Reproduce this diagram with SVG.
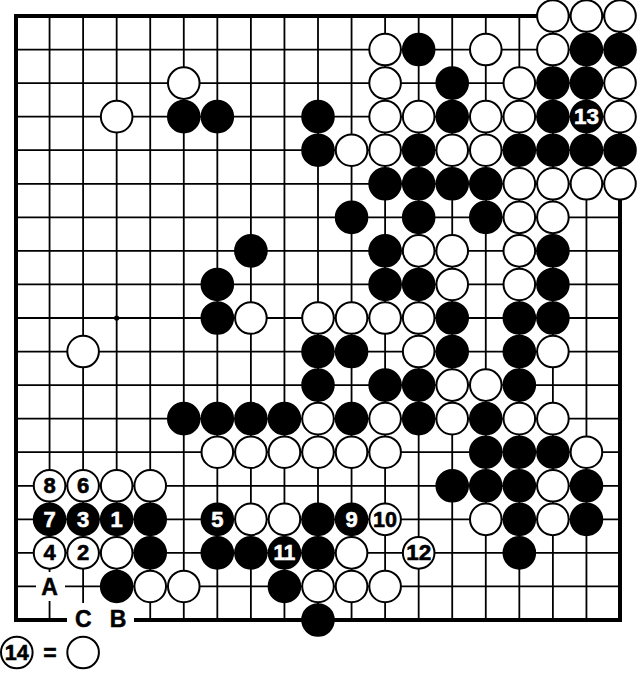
<svg xmlns="http://www.w3.org/2000/svg" width="640" height="674" viewBox="0 0 640 674">
<style>
.g{stroke:#000;stroke-width:1.8;fill:none}
.bd{stroke:#000;stroke-width:4;fill:none;stroke-linecap:square}
.b{fill:#000;stroke:#000;stroke-width:2}
.w{fill:#fff;stroke:#000;stroke-width:2}
.n{font-family:"Liberation Sans",Arial,sans-serif;font-weight:bold;font-size:22px;text-anchor:middle;stroke-width:0.6}
.nw{fill:#fff;stroke:#fff}
.nb{fill:#000;stroke:#000}
.lb{font-family:"Liberation Sans",Arial,sans-serif;font-weight:bold;font-size:23px;text-anchor:middle;fill:#000;stroke:#000;stroke-width:0.5}
</style>
<rect width="640" height="674" fill="#fff"/>
<g id="grid" class="g">
<path d="M16 49.56H620M16 83.11H620M16 116.67H620M16 150.22H620M16 183.78H620M16 217.33H620M16 250.89H620M16 284.44H620M16 318H620M16 351.56H620M16 385.11H620M16 418.67H620M16 452.22H620M16 485.78H620M16 519.33H620M16 552.89H620M16 586.44H620"/>
<path d="M49.56 16V620M83.11 16V620M116.67 16V620M150.22 16V620M183.78 16V620M217.33 16V620M250.89 16V620M284.44 16V620M318 16V620M351.56 16V620M385.11 16V620M418.67 16V620M452.22 16V620M485.78 16V620M519.33 16V620M552.89 16V620M586.44 16V620"/>
</g>
<g id="border" class="bd">
<path d="M16 620V16H620V620H16"/>
</g>
<circle id="hoshi" cx="116.67" cy="318" r="2.6" fill="#000"/>
<g id="labels">
<rect x="36" y="572" width="29" height="29" fill="#fff"/>
<text class="lb" x="49.56" y="595">A</text>
<rect x="67" y="603" width="67" height="34" fill="#fff"/>
<text class="lb" x="83.3" y="626.5">C</text>
<text class="lb" x="118" y="626.5">B</text>
</g>
<g id="stones">
<!-- row 0 -->
<circle class="w" cx="552.89" cy="16" r="15.8"/><circle class="w" cx="586.44" cy="16" r="15.8"/><circle class="w" cx="620" cy="16" r="15.8"/>
<!-- row 1 -->
<circle class="w" cx="385.11" cy="49.56" r="15.8"/><circle class="b" cx="418.67" cy="49.56" r="15.8"/><circle class="w" cx="485.78" cy="49.56" r="15.8"/><circle class="w" cx="552.89" cy="49.56" r="15.8"/><circle class="b" cx="586.44" cy="49.56" r="15.8"/><circle class="b" cx="620" cy="49.56" r="15.8"/>
<!-- row 2 -->
<circle class="w" cx="183.78" cy="83.11" r="15.8"/><circle class="w" cx="385.11" cy="83.11" r="15.8"/><circle class="b" cx="452.22" cy="83.11" r="15.8"/><circle class="w" cx="519.33" cy="83.11" r="15.8"/><circle class="b" cx="552.89" cy="83.11" r="15.8"/><circle class="b" cx="586.44" cy="83.11" r="15.8"/><circle class="w" cx="620" cy="83.11" r="15.8"/>
<!-- row 3 -->
<circle class="w" cx="116.67" cy="116.67" r="15.8"/><circle class="b" cx="183.78" cy="116.67" r="15.8"/><circle class="b" cx="217.33" cy="116.67" r="15.8"/><circle class="b" cx="318" cy="116.67" r="15.8"/><circle class="w" cx="385.11" cy="116.67" r="15.8"/><circle class="w" cx="418.67" cy="116.67" r="15.8"/><circle class="b" cx="452.22" cy="116.67" r="15.8"/><circle class="w" cx="485.78" cy="116.67" r="15.8"/><circle class="w" cx="519.33" cy="116.67" r="15.8"/><circle class="b" cx="552.89" cy="116.67" r="15.8"/>
<g id="m13"><circle class="b" cx="586.44" cy="116.67" r="15.8"/><text class="n nw" x="586.44" y="124.2" textLength="25" lengthAdjust="spacingAndGlyphs">13</text></g>
<circle class="w" cx="620" cy="116.67" r="15.8"/>
<!-- row 4 -->
<circle class="b" cx="318" cy="150.22" r="15.8"/><circle class="w" cx="351.56" cy="150.22" r="15.8"/><circle class="w" cx="385.11" cy="150.22" r="15.8"/><circle class="b" cx="418.67" cy="150.22" r="15.8"/><circle class="w" cx="452.22" cy="150.22" r="15.8"/><circle class="w" cx="485.78" cy="150.22" r="15.8"/><circle class="b" cx="519.33" cy="150.22" r="15.8"/><circle class="b" cx="552.89" cy="150.22" r="15.8"/><circle class="b" cx="586.44" cy="150.22" r="15.8"/><circle class="b" cx="620" cy="150.22" r="15.8"/>
<!-- row 5 -->
<circle class="b" cx="385.11" cy="183.78" r="15.8"/><circle class="b" cx="418.67" cy="183.78" r="15.8"/><circle class="b" cx="452.22" cy="183.78" r="15.8"/><circle class="b" cx="485.78" cy="183.78" r="15.8"/><circle class="w" cx="519.33" cy="183.78" r="15.8"/><circle class="w" cx="552.89" cy="183.78" r="15.8"/><circle class="w" cx="586.44" cy="183.78" r="15.8"/><circle class="w" cx="620" cy="183.78" r="15.8"/>
<!-- row 6 -->
<circle class="b" cx="351.56" cy="217.33" r="15.8"/><circle class="b" cx="418.67" cy="217.33" r="15.8"/><circle class="b" cx="485.78" cy="217.33" r="15.8"/><circle class="w" cx="519.33" cy="217.33" r="15.8"/><circle class="w" cx="552.89" cy="217.33" r="15.8"/>
<!-- row 7 -->
<circle class="b" cx="250.89" cy="250.89" r="15.8"/><circle class="b" cx="385.11" cy="250.89" r="15.8"/><circle class="w" cx="418.67" cy="250.89" r="15.8"/><circle class="w" cx="452.22" cy="250.89" r="15.8"/><circle class="w" cx="519.33" cy="250.89" r="15.8"/><circle class="b" cx="552.89" cy="250.89" r="15.8"/>
<!-- row 8 -->
<circle class="b" cx="217.33" cy="284.44" r="15.8"/><circle class="b" cx="385.11" cy="284.44" r="15.8"/><circle class="b" cx="418.67" cy="284.44" r="15.8"/><circle class="w" cx="452.22" cy="284.44" r="15.8"/><circle class="w" cx="519.33" cy="284.44" r="15.8"/><circle class="b" cx="552.89" cy="284.44" r="15.8"/>
<!-- row 9 -->
<circle class="b" cx="217.33" cy="318" r="15.8"/><circle class="w" cx="250.89" cy="318" r="15.8"/><circle class="w" cx="318" cy="318" r="15.8"/><circle class="w" cx="351.56" cy="318" r="15.8"/><circle class="w" cx="385.11" cy="318" r="15.8"/><circle class="w" cx="418.67" cy="318" r="15.8"/><circle class="b" cx="452.22" cy="318" r="15.8"/><circle class="b" cx="519.33" cy="318" r="15.8"/><circle class="b" cx="552.89" cy="318" r="15.8"/>
<!-- row 10 -->
<circle class="w" cx="83.11" cy="351.56" r="15.8"/><circle class="b" cx="318" cy="351.56" r="15.8"/><circle class="b" cx="351.56" cy="351.56" r="15.8"/><circle class="w" cx="418.67" cy="351.56" r="15.8"/><circle class="b" cx="452.22" cy="351.56" r="15.8"/><circle class="b" cx="519.33" cy="351.56" r="15.8"/><circle class="w" cx="552.89" cy="351.56" r="15.8"/>
<!-- row 11 -->
<circle class="b" cx="318" cy="385.11" r="15.8"/><circle class="b" cx="385.11" cy="385.11" r="15.8"/><circle class="b" cx="418.67" cy="385.11" r="15.8"/><circle class="w" cx="452.22" cy="385.11" r="15.8"/><circle class="w" cx="485.78" cy="385.11" r="15.8"/><circle class="b" cx="519.33" cy="385.11" r="15.8"/>
<!-- row 12 -->
<circle class="b" cx="183.78" cy="418.67" r="15.8"/><circle class="b" cx="217.33" cy="418.67" r="15.8"/><circle class="b" cx="250.89" cy="418.67" r="15.8"/><circle class="b" cx="284.44" cy="418.67" r="15.8"/><circle class="w" cx="318" cy="418.67" r="15.8"/><circle class="b" cx="351.56" cy="418.67" r="15.8"/><circle class="w" cx="385.11" cy="418.67" r="15.8"/><circle class="b" cx="418.67" cy="418.67" r="15.8"/><circle class="w" cx="452.22" cy="418.67" r="15.8"/><circle class="b" cx="485.78" cy="418.67" r="15.8"/><circle class="w" cx="519.33" cy="418.67" r="15.8"/><circle class="w" cx="552.89" cy="418.67" r="15.8"/>
<!-- row 13 -->
<circle class="w" cx="217.33" cy="452.22" r="15.8"/><circle class="w" cx="250.89" cy="452.22" r="15.8"/><circle class="w" cx="284.44" cy="452.22" r="15.8"/><circle class="w" cx="318" cy="452.22" r="15.8"/><circle class="w" cx="351.56" cy="452.22" r="15.8"/><circle class="w" cx="385.11" cy="452.22" r="15.8"/><circle class="b" cx="485.78" cy="452.22" r="15.8"/><circle class="b" cx="519.33" cy="452.22" r="15.8"/><circle class="b" cx="552.89" cy="452.22" r="15.8"/><circle class="w" cx="586.44" cy="452.22" r="15.8"/>
<!-- row 14 -->
<g id="m8"><circle class="w" cx="49.56" cy="485.78" r="15.8"/><text class="n nb" x="49.56" y="493.3">8</text></g>
<g id="m6"><circle class="w" cx="83.11" cy="485.78" r="15.8"/><text class="n nb" x="83.11" y="493.3">6</text></g>
<circle class="w" cx="116.67" cy="485.78" r="15.8"/><circle class="w" cx="150.22" cy="485.78" r="15.8"/><circle class="b" cx="452.22" cy="485.78" r="15.8"/><circle class="b" cx="485.78" cy="485.78" r="15.8"/><circle class="b" cx="519.33" cy="485.78" r="15.8"/><circle class="w" cx="552.89" cy="485.78" r="15.8"/><circle class="b" cx="586.44" cy="485.78" r="15.8"/>
<!-- row 15 -->
<g id="m7"><circle class="b" cx="49.56" cy="519.33" r="15.8"/><text class="n nw" x="49.56" y="526.9">7</text></g>
<g id="m3"><circle class="b" cx="83.11" cy="519.33" r="15.8"/><text class="n nw" x="83.11" y="526.9">3</text></g>
<g id="m1"><circle class="b" cx="116.67" cy="519.33" r="15.8"/><text class="n nw" x="116.67" y="526.9">1</text></g>
<circle class="b" cx="150.22" cy="519.33" r="15.8"/>
<g id="m5"><circle class="b" cx="217.33" cy="519.33" r="15.8"/><text class="n nw" x="217.33" y="526.9">5</text></g>
<circle class="w" cx="250.89" cy="519.33" r="15.8"/><circle class="w" cx="284.44" cy="519.33" r="15.8"/><circle class="b" cx="318" cy="519.33" r="15.8"/>
<g id="m9"><circle class="b" cx="351.56" cy="519.33" r="15.8"/><text class="n nw" x="351.56" y="526.9">9</text></g>
<g id="m10"><circle class="w" cx="385.11" cy="519.33" r="15.8"/><text class="n nb" x="385.11" y="526.9" textLength="24" lengthAdjust="spacingAndGlyphs">10</text></g>
<circle class="w" cx="485.78" cy="519.33" r="15.8"/><circle class="b" cx="519.33" cy="519.33" r="15.8"/><circle class="w" cx="552.89" cy="519.33" r="15.8"/><circle class="b" cx="586.44" cy="519.33" r="15.8"/>
<!-- row 16 -->
<g id="m4"><circle class="w" cx="49.56" cy="552.89" r="15.8"/><text class="n nb" x="49.56" y="560.4">4</text></g>
<g id="m2"><circle class="w" cx="83.11" cy="552.89" r="15.8"/><text class="n nb" x="83.11" y="560.4">2</text></g>
<circle class="w" cx="116.67" cy="552.89" r="15.8"/><circle class="b" cx="150.22" cy="552.89" r="15.8"/><circle class="b" cx="217.33" cy="552.89" r="15.8"/><circle class="b" cx="250.89" cy="552.89" r="15.8"/>
<g id="m11"><circle class="b" cx="284.44" cy="552.89" r="15.8"/><text class="n nw" x="284.44" y="560.4" textLength="22" lengthAdjust="spacingAndGlyphs">11</text></g>
<circle class="b" cx="318" cy="552.89" r="15.8"/><circle class="w" cx="351.56" cy="552.89" r="15.8"/>
<g id="m12"><circle class="w" cx="418.67" cy="552.89" r="15.8"/><text class="n nb" x="418.67" y="560.4" textLength="25" lengthAdjust="spacingAndGlyphs">12</text></g>
<circle class="b" cx="519.33" cy="552.89" r="15.8"/>
<!-- row 17 -->
<circle class="b" cx="116.67" cy="586.44" r="15.8"/><circle class="w" cx="150.22" cy="586.44" r="15.8"/><circle class="w" cx="183.78" cy="586.44" r="15.8"/><circle class="b" cx="284.44" cy="586.44" r="15.8"/><circle class="w" cx="318" cy="586.44" r="15.8"/><circle class="w" cx="351.56" cy="586.44" r="15.8"/><circle class="w" cx="385.11" cy="586.44" r="15.8"/>
<!-- row 18 -->
<circle class="b" cx="318" cy="620" r="15.8"/>
</g>
<g id="legend">
<g id="m14"><circle class="w" cx="16.8" cy="652.5" r="15.8"/><text class="n nb" x="16.8" y="660" textLength="24" lengthAdjust="spacingAndGlyphs">14</text></g>
<text class="lb" x="50" y="660.5">=</text>
<circle class="w" cx="83.11" cy="652.5" r="15.8"/>
</g>
</svg>
